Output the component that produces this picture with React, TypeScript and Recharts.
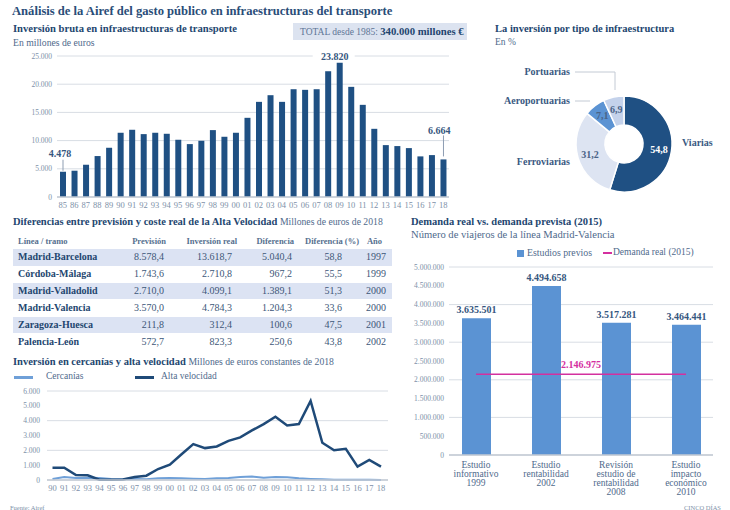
import React from 'react';
import {
  BarChart, Bar, XAxis, YAxis, CartesianGrid, LabelList,
  PieChart, Pie, Cell, LineChart, Line, ComposedChart,
} from 'recharts';

// ---- datos ----
const anios = ['85', '86', '87', '88', '89', '90', '91', '92', '93', '94', '95', '96', '97', '98', '99',
  '00', '01', '02', '03', '04', '05', '06', '07', '08', '09', '10', '11', '12', '13', '14', '15', '16', '17', '18'];
const inversionBruta = [4478, 4660, 5720, 7260, 8730, 11390, 11920, 11150, 11390, 11210, 10150, 9380, 9970, 11860, 10680,
  11390, 14040, 16870, 18050, 16870, 19110, 19000, 19110, 22300, 23820, 19530, 16340, 12090, 9200, 9030, 8670, 7200, 7430, 6664];
const aniosDestacados = ['85', '09', '18'];

const tiposInfra = ['Viarias', 'Ferroviarias', 'Aeroportuarias', 'Portuarias'];
const pctInfra = [54.8, 31.2, 7.1, 6.9];

const lineasAV = ['Madrid-Barcelona', 'Córdoba-Málaga', 'Madrid-Valladolid', 'Madrid-Valencia', 'Zaragoza-Huesca', 'Palencia-León'];
const prevision = [8578.4, 1743.6, 2710.0, 3570.0, 211.8, 572.7];
const inversionReal = [13618.7, 2710.8, 4099.1, 4784.3, 312.4, 823.3];
const diferencia = [5040.4, 967.2, 1389.1, 1204.3, 100.6, 250.6];
const diferenciaPct = [58.8, 55.5, 51.3, 33.6, 47.5, 43.8];
const anioLinea = [1997, 1999, 2000, 2000, 2001, 2002];

const aniosLineas = ['90', '91', '92', '93', '94', '95', '96', '97', '98', '99',
  '00', '01', '02', '03', '04', '05', '06', '07', '08', '09', '10', '11', '12', '13', '14', '15', '16', '17', '18'];
const cercanias = [70, 200, 130, 150, 130, 70, 50, 60, 50, 110, 140, 110, 90, 70, 110, 140, 200, 230, 160, 200, 180, 110, 70, 45, 10, 10, 10, 10, 0];
const altaVelocidad = [830, 830, 340, 320, 20, 20, 30, 200, 290, 740, 1040, 1740, 2420, 2150, 2260, 2640, 2870, 3340, 3770, 4270, 3680, 3770, 5330, 2510, 2010, 2100, 900, 1350, 900];

const estudios = ['Estudio\ninformativo\n1999', 'Estudio\nrentabilidad\n2002', 'Revisión\nestudio de\nrentabilidad\n2008', 'Estudio\nimpacto\neconómico\n2010'];
const viajerosPrevistos = [3635501, 4494658, 3517281, 3464441];
const demandaReal2015 = 2146975;

// ---- estilos ----
const SERIF = '"Liberation Serif", "DejaVu Serif", serif';
const NAVY = '#23466f';
const SUB = '#4f6a8c';
const GREY = '#7d90a8';
const GRID = '#d8dde4';
const AXIS = '#c3cad3';
const DARK = '#1f5083';
const MID = '#5b93d3';
const MAGENTA = '#d4309f';

const miles = (n: number, dec = 0) => {
  const [i, d] = n.toFixed(dec).split('.');
  const ent = i.replace(/\B(?=(\d{3})+(?!\d))/g, '.');
  return d ? `${ent},${d}` : ent;
};

const datosInversion = anios.map((a, i) => ({ anio: a, valor: inversionBruta[i] }));
const datosPie = tiposInfra.map((t, i) => ({ name: t, value: pctInfra[i] }));
const coloresPie = [DARK, '#dde4f2', MID, '#c4d2eb'];
const datosLineas = aniosLineas.map((a, i) => ({ anio: a, cercanias: cercanias[i], alta: altaVelocidad[i] }));
const datosDemanda = estudios.map((e, i) => ({ estudio: e, previstos: viajerosPrevistos[i], real: demandaReal2015 }));

type TProps = { x: number; y: number; size?: number; bold?: boolean; color?: string; align?: 'left' | 'right' | 'center'; children: React.ReactNode };
const T = ({ x, y, size = 9, bold = false, color = NAVY, align = 'left', children }: TProps) => (
  <div style={{
    position: 'absolute', top: y - size * 0.6, left: x,
    transform: align === 'right' ? 'translateX(-100%)' : align === 'center' ? 'translateX(-50%)' : undefined,
    fontSize: size, lineHeight: `${size * 1.2}px`, fontWeight: bold ? 700 : 400, color,
    whiteSpace: 'nowrap', fontFamily: SERIF,
  }}>{children}</div>
);

const EtiquetaBarra = (props: any) => {
  const { x, y, width, value, index } = props;
  const anio = anios[index];
  if (!aniosDestacados.includes(anio)) return null;
  const cx = x + width / 2;
  const estilo = { fontSize: 10, fontWeight: 700, fill: '#36567e', fontFamily: SERIF };
  if (index === 0) {
    return (
      <g>
        <line x1={cx} x2={cx} y1={y - 1} y2={y - 12} stroke="#8d9db2" />
        <text x={cx - 3} y={y - 15} textAnchor="middle" {...estilo}>{miles(value)}</text>
      </g>
    );
  }
  if (index === anios.length - 1) {
    return (
      <g>
        <line x1={cx} x2={cx} y1={y - 3} y2={y - 24} stroke="#8d9db2" />
        <text x={cx + 7} y={y - 25} textAnchor="end" {...estilo}>{miles(value)}</text>
      </g>
    );
  }
  return (
    <g>
      <rect x={cx - 27} y={y - 13} width={42} height={12} fill="#fff" />
      <text x={cx - 5} y={y - 3} textAnchor="middle" {...estilo}>{miles(value)}</text>
    </g>
  );
};

const RAD = Math.PI / 180;
const EtiquetaPie = (props: any) => {
  const { cx, cy, midAngle, innerRadius, outerRadius, value, index, name } = props;
  const r = (innerRadius + outerRadius) / 2 + 2;
  const x = cx + r * Math.cos(-midAngle * RAD);
  const y = cy + r * Math.sin(-midAngle * RAD);
  const estiloNombre = { fontSize: 10, fontWeight: 700, fill: '#3a5a82', fontFamily: SERIF };
  const izq = cx - outerRadius - 6;
  let nombre = null;
  if (index === 0) {
    nombre = <text x={cx + outerRadius + 10} y={cy + 2} {...estiloNombre}>{name}</text>;
  } else if (index === 1) {
    nombre = <text x={izq} y={cy + 21} textAnchor="end" {...estiloNombre}>{name}</text>;
  } else if (index === 2) {
    nombre = (
      <g>
        <text x={izq} y={cy - 40} textAnchor="end" {...estiloNombre}>{name}</text>
        <line x1={izq + 5} x2={izq + 20} y1={cy - 43} y2={cy - 43} stroke="#c3cad4" />
      </g>
    );
  } else {
    nombre = (
      <g>
        <text x={izq} y={cy - 69} textAnchor="end" {...estiloNombre}>{name}</text>
        <polyline points={`${izq + 5},${cy - 72} ${cx - 9},${cy - 72} ${cx - 9},${cy - 54}`} fill="none" stroke="#c3cad4" />
      </g>
    );
  }
  return (
    <g>
      <text x={x} y={y} textAnchor="middle" dominantBaseline="central" fontSize={10} fontWeight={700}
        fill={index === 0 ? '#fff' : '#4a6387'} fontFamily={SERIF}>{miles(value, 1)}</text>
      {nombre}
    </g>
  );
};

const TickEstudio = (props: any) => {
  const { x, y, payload } = props;
  const lineas = String(payload.value).split('\n');
  return (
    <text x={x} y={y} textAnchor="middle" fontSize={9.5} fill={SUB} fontFamily={SERIF}>
      {lineas.map((l, i) => <tspan key={i} x={x} dy={i === 0 ? 13 : 9}>{l}</tspan>)}
    </text>
  );
};

const EtiquetaDemanda = (props: any) => {
  const { x, y, value, index } = props;
  if (index !== 1) return null;
  return (
    <text x={x + 35} y={y - 6} textAnchor="middle" fontSize={10} fontWeight={700} fill={MAGENTA} fontFamily={SERIF}>{miles(value)}</text>
  );
};

const tickEje = { fontSize: 7.5, fill: GREY, fontFamily: SERIF };

export default function App() {
  const colsTabla = [
    { titulo: 'Previsión', x: 164, vals: prevision.map(v => miles(v, 1)) },
    { titulo: 'Inversión real', x: 232, vals: inversionReal.map(v => miles(v, 1)) },
    { titulo: 'Diferencia', x: 292, vals: diferencia.map(v => miles(v, 1)) },
    { titulo: 'Diferencia (%)', x: 342, vals: diferenciaPct.map(v => miles(v, 1)) },
    { titulo: 'Año', x: 386, vals: anioLinea.map(v => String(v)) },
  ];
  const filaY = (i: number) => 257.3 + i * 16.9;

  return (
    <div style={{ position: 'absolute', left: 0, top: 0, width: 730, height: 510, overflow: 'hidden', background: '#fff', fontFamily: SERIF }}>
      <T x={12} y={12} size={12.6} bold color="#2a4d78">Análisis de la Airef del gasto público en infraestructuras del transporte</T>

      {/* inversión bruta */}
      <T x={13} y={29} size={10.6} bold>Inversión bruta en infraestructuras de transporte</T>
      <T x={13} y={43} size={9.7} color={SUB}>En millones de euros</T>
      <div style={{ position: 'absolute', left: 293, top: 23, width: 174, height: 17, background: '#dce3f0' }} />
      <T x={300} y={31.5} size={9.5} color="#5d7596">TOTAL desde 1985: <b style={{ color: NAVY, fontSize: 10.7 }}>340.000 millones €</b></T>
      <div style={{ position: 'absolute', left: 0, top: 50 }}>
        <BarChart width={460} height={165} data={datosInversion} margin={{ top: 6, right: 11, bottom: 0, left: 0 }}>
          <CartesianGrid vertical={false} stroke={GRID} />
          <XAxis dataKey="anio" height={18} interval={0} tickSize={0} tickMargin={5} axisLine={{ stroke: AXIS, strokeWidth: 1.5 }}
            tickLine={false} tick={{ fontSize: 8.5, fill: GREY, fontFamily: SERIF }} />
          <YAxis width={57} domain={[0, 25000]} ticks={[0, 5000, 10000, 15000, 20000, 25000]} tickFormatter={(v: number) => miles(v)}
            tickSize={0} tickMargin={5} axisLine={false} tickLine={false} tick={tickEje} />
          <Bar dataKey="valor" fill={DARK} barSize={6} isAnimationActive={false}>
            <LabelList dataKey="valor" content={EtiquetaBarra} />
          </Bar>
        </BarChart>
      </div>

      {/* tipo de infraestructura */}
      <T x={495} y={29.5} size={10.5} bold>La inversión por tipo de infraestructura</T>
      <T x={495} y={43} size={9.5} color={SUB}>En %</T>
      <div style={{ position: 'absolute', left: 490, top: 60 }}>
        <PieChart width={240} height={160} margin={{ top: 0, right: 0, bottom: 0, left: 0 }}>
          <Pie data={datosPie} dataKey="value" nameKey="name" cx={134} cy={84} innerRadius={19} outerRadius={48}
            startAngle={90} endAngle={-270} stroke="#fff" strokeWidth={1.5} label={EtiquetaPie} labelLine={false}
            isAnimationActive={false}>
            {datosPie.map((d, i) => <Cell key={d.name} fill={coloresPie[i]} />)}
          </Pie>
        </PieChart>
      </div>

      {/* tabla alta velocidad */}
      <div style={{ position: 'absolute', left: 13, top: 213, whiteSpace: 'nowrap', fontFamily: SERIF, color: NAVY, fontSize: 10.5, fontWeight: 700, lineHeight: '18px' }}>
        Diferencias entre previsión y coste real de la Alta Velocidad{' '}
        <span style={{ fontWeight: 400, fontSize: 9.7, color: SUB }}>Millones de euros de 2018</span>
      </div>
      <T x={18} y={241} size={8.5} bold color="#56708f">Línea / tramo</T>
      {colsTabla.map(c => (
        <T key={c.titulo} x={c.x + (c.titulo === 'Inversión real' ? 5 : c.titulo === 'Diferencia (%)' ? 17 : c.titulo === 'Año' ? -4 : 2)} y={241} size={8.5} bold color="#56708f" align="right">{c.titulo}</T>
      ))}
      {lineasAV.map((l, i) => (
        <React.Fragment key={l}>
          {i % 2 === 0 && (
            <div style={{ position: 'absolute', left: 13, top: filaY(i) - 8.4, width: 379, height: 16.8, background: '#dce3f3' }} />
          )}
          <T x={18} y={filaY(i)} size={10} bold>{l}</T>
          {colsTabla.map(c => (
            <T key={c.titulo} x={c.x} y={filaY(i)} size={10} color="#3c5678" align="right">{c.vals[i]}</T>
          ))}
        </React.Fragment>
      ))}

      {/* cercanías y alta velocidad */}
      <div style={{ position: 'absolute', left: 13, top: 353, whiteSpace: 'nowrap', fontFamily: SERIF, color: NAVY, fontSize: 10.5, fontWeight: 700, lineHeight: '18px' }}>
        Inversión en cercanías y alta velocidad{' '}
        <span style={{ fontWeight: 400, fontSize: 9.7, color: SUB }}>Millones de euros constantes de 2018</span>
      </div>
      <div style={{ position: 'absolute', left: 14, top: 376, width: 19, height: 2.5, background: '#6fa0d8' }} />
      <T x={46} y={377} size={9.5} color={SUB}>Cercanías</T>
      <div style={{ position: 'absolute', left: 135, top: 376, width: 19, height: 2.5, background: '#1f4a78' }} />
      <T x={161} y={377} size={9.5} color={SUB}>Alta velocidad</T>
      <div style={{ position: 'absolute', left: 0, top: 380 }}>
        <LineChart width={400} height={120} data={datosLineas} margin={{ top: 11, right: 12, bottom: 0, left: 0 }}>
          <CartesianGrid vertical={false} stroke={GRID} />
          <XAxis dataKey="anio" height={20} interval={0} tickSize={0} tickMargin={5} padding={{ left: 5.5, right: 7 }}
            axisLine={{ stroke: AXIS, strokeWidth: 1.5 }} tickLine={false} tick={{ fontSize: 8.5, fill: GREY, fontFamily: SERIF }} />
          <YAxis width={47} domain={[0, 6000]} ticks={[0, 1000, 2000, 3000, 4000, 5000, 6000]} tickFormatter={(v: number) => miles(v)}
            tickSize={0} tickMargin={7} axisLine={false} tickLine={false} tick={tickEje} />
          <Line dataKey="cercanias" stroke="#6fa0d8" strokeWidth={2} dot={false} isAnimationActive={false} />
          <Line dataKey="alta" stroke="#1f4a78" strokeWidth={2.5} dot={false} isAnimationActive={false} />
        </LineChart>
      </div>

      {/* demanda Madrid-Valencia */}
      <T x={411} y={222} size={10.5} bold>Demanda real vs. demanda prevista (2015)</T>
      <T x={411} y={235} size={10.6} color={SUB}>Número de viajeros de la línea Madrid-Valencia</T>
      <div style={{ position: 'absolute', left: 517, top: 249.5, width: 7, height: 7, background: MID }} />
      <T x={527} y={253} size={9.8} color={SUB}>Estudios previos</T>
      <div style={{ position: 'absolute', left: 603, top: 251.5, width: 9, height: 2, background: MAGENTA }} />
      <T x={613} y={253} size={9.5} color={SUB}>Demanda real (2015)</T>
      <div style={{ position: 'absolute', left: 400, top: 261 }}>
        <ComposedChart width={330} height={249} data={datosDemanda} margin={{ top: 6, right: 17, bottom: 0, left: 0 }}>
          <CartesianGrid vertical={false} stroke={GRID} />
          <XAxis dataKey="estudio" height={55} interval={0} tickSize={0} tickMargin={0} padding={{ left: -8, right: -8 }}
            axisLine={{ stroke: AXIS, strokeWidth: 1.5 }} tickLine={false} tick={<TickEstudio />} />
          <YAxis width={49} domain={[0, 5000000]} ticks={[0, 500000, 1000000, 1500000, 2000000, 2500000, 3000000, 3500000, 4000000, 4500000, 5000000]}
            tickFormatter={(v: number) => miles(v)} tickSize={0} tickMargin={5} axisLine={false} tickLine={false} tick={tickEje} />
          <Bar dataKey="previstos" fill={MID} barSize={29} isAnimationActive={false}>
            <LabelList dataKey="previstos" position="top" offset={5} formatter={(v: any) => miles(Number(v))}
              style={{ fontSize: 10, fontWeight: 700, fill: '#36567e', fontFamily: SERIF }} />
          </Bar>
          <Line dataKey="real" stroke={MAGENTA} strokeWidth={1.5} dot={false} isAnimationActive={false}>
            <LabelList dataKey="real" content={EtiquetaDemanda} />
          </Line>
        </ComposedChart>
      </div>

      <T x={10} y={508} size={6.5} color={GREY}>Fuente: Airef</T>
      <T x={721} y={508} size={6.5} color={GREY} align="right">CINCO DÍAS</T>
    </div>
  );
}
